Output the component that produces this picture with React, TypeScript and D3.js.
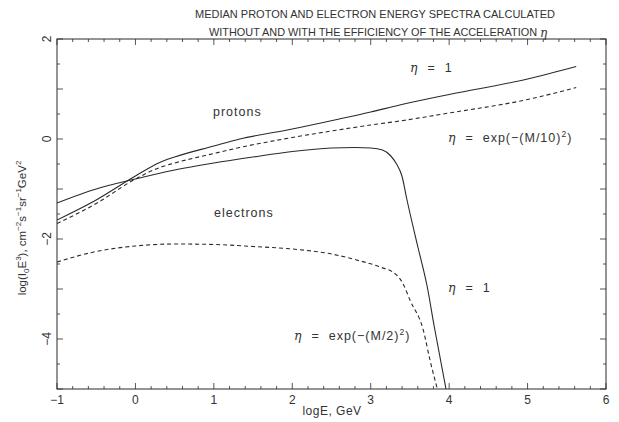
import React from 'react';
import * as d3 from 'd3';

const titleLines = [
  'MEDIAN PROTON AND ELECTRON ENERGY SPECTRA CALCULATED',
  'WITHOUT AND WITH THE EFFICIENCY OF THE ACCELERATION ',
];
const xTicks = [-1, 0, 1, 2, 3, 4, 5, 6];
const yTickLabels = [2, 0, -2, -4];

// protons, eta = 1
const protonSolidX = [-1, -0.5, 0, 0.31, 0.5, 1, 1.33, 2, 2.57, 3, 3.37, 4, 5, 5.62];
const protonSolidY = [-1.62, -1.22, -0.74, -0.47, -0.36, -0.14, 0.0, 0.2, 0.39, 0.54, 0.68, 0.89, 1.2, 1.45];
// protons, eta = exp(-(M/10)^2)
const protonDashX = [-1, -0.5, 0, 0.31, 0.5, 1, 1.33, 2, 2.5, 3, 3.37, 4, 5, 5.62];
const protonDashY = [-1.69, -1.29, -0.8, -0.57, -0.48, -0.29, -0.17, 0.03, 0.16, 0.28, 0.36, 0.52, 0.79, 1.03];
// electrons, eta = 1
const electronSolidX = [-1, -0.5, 0, 0.5, 1, 1.5, 2, 2.5, 2.8, 3.0, 3.15, 3.25, 3.33, 3.4, 3.46, 3.6, 3.72, 3.81, 3.96];
const electronSolidY = [-1.28, -1.0, -0.8, -0.62, -0.48, -0.36, -0.25, -0.18, -0.17, -0.18, -0.22, -0.33, -0.5, -0.75, -1.2, -2.15, -2.95, -3.75, -5];
// electrons, eta = exp(-(M/2)^2)
const electronDashX = [-1, -0.5, 0, 0.5, 1, 1.5, 2, 2.5, 2.82, 3.1, 3.33, 3.42, 3.5, 3.67, 3.76, 3.85];
const electronDashY = [-2.46, -2.25, -2.14, -2.1, -2.11, -2.15, -2.2, -2.3, -2.42, -2.55, -2.72, -2.92, -3.22, -3.82, -4.45, -5];

const W = 619;
const H = 422;
const left = 57, right = 606, top = 39, bottom = 389;

export default function App() {
  const x = d3.scaleLinear().domain([-1, 6]).range([left, right]);
  const y = d3.scaleLinear().domain([-5, 2]).range([bottom, top]);
  const line = d3.line<[number, number]>()
    .x((d) => x(d[0]))
    .y((d) => y(d[1]))
    .curve(d3.curveMonotoneX);
  const zip = (a: number[], b: number[]) => a.map((v, i) => [v, b[i]] as [number, number]);

  const ink = '#2a2a2a';
  const textInk = '#333';
  const font = "'Liberation Sans', Arial, sans-serif";
  const eta = "'DejaVu Serif', serif";
  const ann = { fontSize: 12.5, fill: textInk, letterSpacing: 1, style: { whiteSpace: 'pre' as const } };

  const xMinor = d3.range(-1, 6.001, 0.2);
  const yMinor = d3.range(-5, 2.001, 0.5);

  return (
    <svg width={W} height={H} style={{ position: 'absolute', left: 0, top: 0, background: '#fff' }}
      fontFamily={font}>
      <defs>
        <clipPath id="plotclip">
          <rect x={left} y={top} width={right - left} height={bottom - top} />
        </clipPath>
      </defs>
      {/* title */}
      <text x={375} y={18} textAnchor="middle" fontSize={10.5} fill={textInk} textLength={360} lengthAdjust="spacingAndGlyphs">{titleLines[0]}</text>
      <text x={209} y={36} fontSize={10.5} fill={textInk} textLength={328} lengthAdjust="spacingAndGlyphs">{titleLines[1]}</text>
      <text x={540} y={37} fontSize={12} fill={textInk} fontStyle="italic" fontFamily={eta}>η</text>

      {/* frame */}
      <rect x={left} y={top} width={right - left} height={bottom - top} fill="none" stroke={ink} strokeWidth={1} />

      {/* x ticks */}
      {xMinor.map((v, i) => {
        const major = Math.abs(v - Math.round(v)) < 1e-6;
        const len = major ? 6 : 3;
        return (
          <g key={'xt' + i} stroke={ink} strokeWidth={0.8}>
            <line x1={x(v)} x2={x(v)} y1={bottom} y2={bottom - len} />
            <line x1={x(v)} x2={x(v)} y1={top} y2={top + len} />
          </g>
        );
      })}
      {/* y ticks */}
      {yMinor.map((v, i) => {
        const major = Math.abs(v - Math.round(v)) < 1e-6;
        const len = major ? 6 : 3;
        return (
          <g key={'yt' + i} stroke={ink} strokeWidth={0.8}>
            <line x1={left} x2={left + len} y1={y(v)} y2={y(v)} />
            <line x1={right} x2={right - len} y1={y(v)} y2={y(v)} />
          </g>
        );
      })}
      {xTicks.map((v) => (
        <text key={'xl' + v} x={x(v)} y={404} textAnchor="middle" fontSize={12} fill={textInk}>
          {v < 0 ? '\u2212' + Math.abs(v) : v}
        </text>
      ))}
      {yTickLabels.map((v) => (
        <text key={'yl' + v} transform={`translate(51,${y(v)}) rotate(-90)`} textAnchor="middle" fontSize={12} fill={textInk}>
          {v < 0 ? '\u2212' + Math.abs(v) : v}
        </text>
      ))}
      <text x={332} y={415} textAnchor="middle" fontSize={12} fill={textInk} letterSpacing={0.5}>logE, GeV</text>
      <text transform="translate(26,228) rotate(-90)" textAnchor="middle" fontSize={11.5} fill={textInk}>
        log(I<tspan fontSize={8} dy={3}>0</tspan><tspan dy={-3}>E</tspan><tspan fontSize={8} dy={-5}>3</tspan><tspan dy={5}>), cm</tspan>
        <tspan fontSize={8} dy={-5}>{'\u22122'}</tspan><tspan dy={5}>s</tspan>
        <tspan fontSize={8} dy={-5}>{'\u22121'}</tspan><tspan dy={5}>sr</tspan>
        <tspan fontSize={8} dy={-5}>{'\u22121'}</tspan><tspan dy={5}>GeV</tspan>
        <tspan fontSize={8} dy={-5}>2</tspan>
      </text>

      {/* curves */}
      <g clipPath="url(#plotclip)" fill="none" stroke={ink} strokeWidth={1.1}>
        <path d={line(zip(protonSolidX, protonSolidY)) || ''} />
        <path d={line(zip(protonDashX, protonDashY)) || ''} strokeDasharray="4,3" />
        <path d={line(zip(electronSolidX, electronSolidY)) || ''} />
        <path d={line(zip(electronDashX, electronDashY)) || ''} strokeDasharray="4,3" />
      </g>

      {/* annotations */}
      <text x={213} y={116} {...ann}>protons</text>
      <text x={214} y={217} {...ann}>electrons</text>
      <text x={410} y={72} {...ann}>
        <tspan fontStyle="italic" fontFamily={eta}>η</tspan>{'  =  1'}
      </text>
      <text x={448} y={142} {...ann}>
        <tspan fontStyle="italic" fontFamily={eta}>η</tspan>{'  =  exp(−(M/10)'}<tspan fontSize={8.5} dy={-5}>2</tspan><tspan dy={5}>)</tspan>
      </text>
      <text x={448} y={292} {...ann}>
        <tspan fontStyle="italic" fontFamily={eta}>η</tspan>{'  =  1'}
      </text>
      <text x={294} y={340} {...ann}>
        <tspan fontStyle="italic" fontFamily={eta}>η</tspan>{'  =  exp(−(M/2)'}<tspan fontSize={8.5} dy={-5}>2</tspan><tspan dy={5}>)</tspan>
      </text>
    </svg>
  );
}
